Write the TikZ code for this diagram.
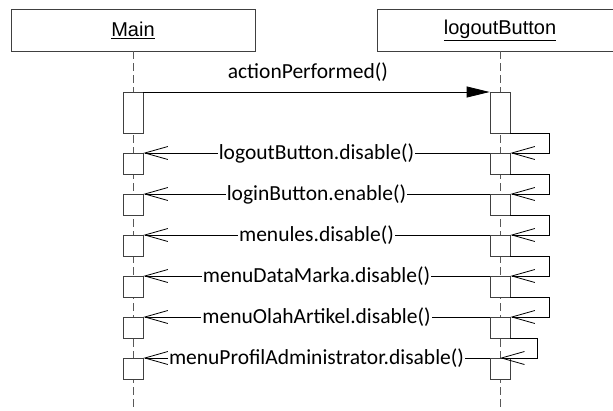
\documentclass[tikz,border=0pt]{standalone}
\usepackage{fontspec}
\setmainfont{Carlito}
\newfontfamily\objfont{Liberation Sans}
\usetikzlibrary{arrows.meta}

\tikzset{
    objbox/.style={draw=black!75, line width=.8pt, minimum height=42pt, inner sep=0pt,
        font=\objfont\fontsize{20}{24}\selectfont},
    actbox/.style={draw=black!75, fill=white, line width=.8pt, minimum width=20pt, inner sep=0pt},
    lifeline/.style={line width=.8pt, black!65, dash pattern=on 8pt off 4pt},
    msgline/.style={line width=.8pt, black, -{Straight Barb[length=23pt,width=13pt]}},
    msglabel/.style={fill=white, inner sep=1pt, font=\fontsize{21.5}{24}\selectfont},
}

\begin{document}
\begin{tikzpicture}[x=1pt, y=-1pt]
    \clip (0,0) rectangle (613,410);
    \coordinate (bottom) at (0,410);

    \node[objbox, minimum width=244pt] (main) at (133,30) {\underline{Main}};
    \node[objbox, minimum width=246pt] (logout) at (500,30) {\underline{logoutButton}};

    \draw [lifeline] (main.south) -- (main.south |- bottom);
    \draw [lifeline] (logout.south) -- (logout.south |- bottom);

    % activation boxes
    \node[actbox, minimum height=41pt, anchor=north] (m0) at (133,92) {};
    \node[actbox, minimum height=41pt, anchor=north] (l0) at (500,92) {};
    \foreach \y/\i in {153/1,194/2,235/3,276/4,317/5,358/6} {
        \node[actbox, minimum height=21pt, anchor=north] (m\i) at (133,\y) {};
        \node[actbox, minimum height=21pt, anchor=north] (l\i) at (500,\y) {};
    }

    \draw [line width=.8pt, black, -{Triangle[length=23pt,width=11pt]}] (m0.north east) -- (l0.north west)
        node[pos=.475, above=9pt, inner sep=1pt, font=\fontsize{21.5}{24}\selectfont] (call) {actionPerformed()};

    % self calls on logoutButton
    \foreach \i [evaluate=\i as \j using int(\i-1)] in {1,...,5} {
        \draw [msgline] (l\j.south east) -- ++(39,0) |- (l\i.north east);
    }
    \draw [msgline] (l5.south east) -- ++(27,0) |- (l6.north);

    % messages back to Main
    \foreach \i/\t in {1/logoutButton.disable(),2/loginButton.enable(),3/menules.disable(),
            4/menuDataMarka.disable(),5/menuOlahArtikel.disable(),6/menuProfilAdministrator.disable()} {
        \draw [msgline] (l\i.north west) -- node[msglabel] (t\i) {\t} (m\i.north east);
    }
\end{tikzpicture}
\end{document}
